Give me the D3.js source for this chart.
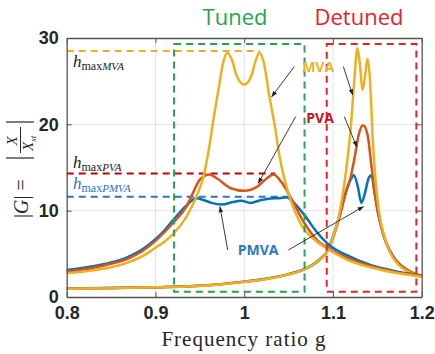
<!doctype html>
<html lang="en">
<head>
<meta charset="utf-8">
<title>Frequency response</title>
<script src="https://d3js.org/d3.v7.min.js"></script>
<style>
  body { margin: 0; background: #fff; }
  svg { display: block; }
</style>
</head>
<body>
<script>
// ---- data ----
const xTicks = [0.8, 0.9, 1.0, 1.1, 1.2];
const yTicks = [0, 10, 20, 30];

// tuned absorbers
const tunedPMVA = [[0.80,3.13],[0.83,3.55],[0.85,4.0],[0.868,4.6],[0.885,5.5],[0.90,6.7],[0.91,7.7],
  [0.92,8.9],[0.935,10.6],[0.946,11.43],
  [0.955,11.2],[0.963,10.9],[0.975,10.7],[0.987,11.0],[0.997,11.15],[1.007,10.9],[1.018,11.2],[1.03,11.4],
  [1.04,11.45],[1.048,11.55],[1.055,11.0],[1.067,9.6],[1.082,7.5],[1.097,5.9],[1.115,4.87],[1.142,3.7],
  [1.17,3.0],[1.2,2.5]];
const tunedPVA = [[0.80,2.95],[0.83,3.4],[0.85,3.85],[0.868,4.4],[0.885,5.3],[0.90,6.5],[0.91,7.5],
  [0.92,8.6],[0.935,10.5],[0.942,12.0],[0.95,13.6],[0.961,14.2],[0.97,13.7],[0.985,12.6],[1.0,12.3],
  [1.015,12.8],[1.025,13.7],[1.033,14.2],[1.042,13.3],[1.052,11.6],[1.067,8.7],[1.082,6.6],[1.097,5.5],
  [1.115,4.6],[1.142,3.6],[1.17,2.9],[1.2,2.45]];
const tunedMVA = [[0.80,2.75],[0.83,3.1],[0.85,3.45],[0.868,3.95],[0.885,4.7],[0.90,5.7],[0.91,6.4],
  [0.92,7.3],[0.935,9.3],[0.946,11.6],[0.954,13.9],[0.96,17],[0.966,21],[0.971,24],[0.976,27],[0.981,28.3],
  [0.986,27.5],[0.992,25.5],[1.0,24.6],[1.008,25.6],[1.013,27.4],[1.017,28.3],[1.022,27.2],[1.028,23.5],
  [1.035,19.5],[1.04,16.2],[1.045,13.8],[1.052,11.3],[1.063,8.6],[1.082,6.4],[1.095,5.5],[1.115,4.37],
  [1.142,3.44],[1.17,2.8],[1.2,2.35]];

// detuned absorbers
const detunedPMVA = [[0.80,0.98],[0.85,1.05],[0.90,1.14],[0.95,1.3],[1.00,1.78],[1.02,2.05],[1.05,2.65],
  [1.07,3.35],[1.085,4.35],[1.095,5.6],[1.10,7.0],[1.108,9.6],[1.115,12.3],[1.12,13.6],[1.1235,14.1],
  [1.128,12.8],[1.132,10.9],[1.136,12.0],[1.14,13.7],[1.1435,14.1],[1.147,12.0],[1.151,9.6],[1.157,7.2],
  [1.164,5.4],[1.172,4.1],[1.184,3.1],[1.196,2.5],[1.2,2.45]];
const detunedPVA = [[0.80,0.97],[0.85,1.04],[0.90,1.13],[0.95,1.29],[1.00,1.76],[1.02,2.02],[1.05,2.62],
  [1.07,3.3],[1.085,4.3],[1.095,5.5],[1.10,6.8],[1.108,9.5],[1.115,12.3],[1.12,13.9],[1.125,16.5],
  [1.129,18.8],[1.134,19.9],[1.139,18.8],[1.143,15.5],[1.147,12.0],[1.152,9.2],[1.158,6.8],[1.165,5.1],
  [1.175,3.8],[1.188,2.9],[1.2,2.4]];
const detunedMVA = [[0.80,0.95],[0.85,1.02],[0.90,1.12],[0.95,1.28],[1.00,1.75],[1.02,2.0],[1.05,2.6],
  [1.07,3.3],[1.085,4.3],[1.095,5.5],[1.10,6.9],[1.105,8.6],[1.11,11.2],[1.115,14.8],[1.12,19.5],
  [1.124,25],[1.1275,28.8],[1.130,27.3],[1.1335,24.0],[1.136,25.5],[1.139,27.6],[1.1415,25.5],[1.145,18],
  [1.148,13.5],[1.152,9.8],[1.158,7.0],[1.165,5.0],[1.175,3.6],[1.188,2.8],[1.2,2.35]];

// h_max reference levels: [value, x where the dashed line stops]
const hMaxMVA  = [28.5, 1.018];
const hMaxPVA  = [14.3, 1.035];
const hMaxPMVA = [11.6, 1.050];

// dashed boxes [x0, x1, y0, y1]
const tunedBox   = [0.921, 1.068, 0.6, 29.3];
const detunedBox = [1.093, 1.194, 0.6, 29.3];

// annotations: label, anchor, arrows [from, to]
const annLabels = [["MVA", 1.0833, 26.06], ["PVA", 1.0855, 20.15], ["PMVA", 1.0156, 4.87]];
const annArrows = [
  [[1.0565, 26.7], [1.031, 23.2]],
  [[1.1117, 26.7], [1.1222, 23.4]],
  [[1.058, 20.9], [1.0159, 13.17]],
  [[1.1128, 20.9], [1.1268, 17.4]],
  [[0.9814, 5.44], [0.9727, 10.46]],
  [[1.0497, 5.44], [1.1342, 10.46]]
];

// ---- chart ----
const W = 435, H = 354;
const mLeft = 66.7, mRight = 421.7, mTop = 38, mBottom = 297;

const colMVA = "#EDB120", colPVA = "#D95319", colPMVA = "#0072BD";

const svg = d3.select("body").append("svg")
  .attr("width", W).attr("height", H);

const x = d3.scaleLinear().domain([0.8, 1.2]).range([mLeft, mRight]);
const y = d3.scaleLinear().domain([0, 30]).range([mBottom, mTop]);

// grid
svg.append("g").selectAll("line")
  .data(xTicks.slice(1, -1)).join("line")
  .attr("x1", d => x(d)).attr("x2", d => x(d))
  .attr("y1", mTop).attr("y2", mBottom)
  .attr("stroke", "#e3e3e3").attr("stroke-width", 1);
svg.append("g").selectAll("line")
  .data(yTicks.slice(1, -1)).join("line")
  .attr("x1", mLeft).attr("x2", mRight)
  .attr("y1", d => y(d)).attr("y2", d => y(d))
  .attr("stroke", "#e3e3e3").attr("stroke-width", 1);

// h_max dashed lines
const hLines = [[hMaxMVA, colMVA], [hMaxPVA, "#C00000"], [hMaxPMVA, "#2E75B6"]];
svg.append("g").selectAll("line")
  .data(hLines).join("line")
  .attr("x1", mLeft).attr("x2", d => x(d[0][1]))
  .attr("y1", d => y(d[0][0])).attr("y2", d => y(d[0][0]))
  .attr("stroke", d => d[1]).attr("stroke-width", 2)
  .attr("stroke-dasharray", "7,5");

// curves
const line = d3.line()
  .x(d => x(d[0]))
  .y(d => y(d[1]))
  .curve(d3.curveMonotoneX);

const curves = [
  [detunedPMVA, colPMVA], [detunedPVA, colPVA], [detunedMVA, colMVA],
  [tunedPMVA, colPMVA], [tunedPVA, colPVA], [tunedMVA, colMVA]
];
svg.append("g").selectAll("path")
  .data(curves).join("path")
  .attr("d", d => line(d[0]))
  .attr("fill", "none")
  .attr("stroke", d => d[1])
  .attr("stroke-width", 2.5)
  .attr("stroke-linejoin", "round");

// dashed boxes
const boxes = [[tunedBox, "#1FA64E"], [detunedBox, "#E8202A"]];
svg.append("g").selectAll("rect")
  .data(boxes).join("rect")
  .attr("x", d => x(d[0][0]))
  .attr("y", d => y(d[0][3]))
  .attr("width", d => x(d[0][1]) - x(d[0][0]))
  .attr("height", d => y(d[0][2]) - y(d[0][3]))
  .attr("fill", "none")
  .attr("stroke", d => d[1])
  .attr("stroke-width", 2)
  .attr("stroke-dasharray", "7,5");

// axes (box style, ticks inside)
const fmt = d => d3.format("")(d);
const axisStyle = g => {
  g.select(".domain").attr("stroke", "#555").attr("stroke-width", 1.3);
  g.selectAll(".tick line").attr("stroke", "#555");
  g.selectAll(".tick text")
    .attr("font-family", "'Liberation Sans', Arial, sans-serif")
    .attr("font-weight", 700).attr("font-size", 18).attr("fill", "#262626");
};
svg.append("g")
  .attr("transform", `translate(0,${mBottom})`)
  .call(d3.axisBottom(x).tickValues(xTicks).tickFormat(fmt).tickSize(-5).tickSizeOuter(0).tickPadding(9))
  .call(axisStyle);
svg.append("g")
  .attr("transform", `translate(${mLeft},0)`)
  .call(d3.axisLeft(y).tickValues(yTicks).tickSize(-5).tickSizeOuter(0).tickPadding(8))
  .call(axisStyle);
svg.append("g")
  .attr("transform", `translate(0,${mTop})`)
  .call(d3.axisTop(x).tickValues(xTicks).tickFormat("").tickSize(-5).tickSizeOuter(0))
  .call(axisStyle);
svg.append("g")
  .attr("transform", `translate(${mRight},0)`)
  .call(d3.axisRight(y).tickValues(yTicks).tickFormat("").tickSize(-5).tickSizeOuter(0))
  .call(axisStyle);

// arrows
svg.append("defs").append("marker")
  .attr("id", "arr").attr("viewBox", "0 0 10 10")
  .attr("refX", 9).attr("refY", 5)
  .attr("markerWidth", 7).attr("markerHeight", 7)
  .attr("orient", "auto-start-reverse")
  .append("path").attr("d", "M0,1.5 L10,5 L0,8.5 Z").attr("fill", "#222");

svg.append("g").selectAll("line")
  .data(annArrows).join("line")
  .attr("x1", d => x(d[0][0])).attr("y1", d => y(d[0][1]))
  .attr("x2", d => x(d[1][0])).attr("y2", d => y(d[1][1]))
  .attr("stroke", "#222").attr("stroke-width", 0.9)
  .attr("marker-end", "url(#arr)");

// annotation labels
const labCol = { MVA: "#E5B531", PVA: "#C0151A", PMVA: "#2A7AC0" };
svg.append("g").selectAll("text")
  .data(annLabels).join("text")
  .attr("x", d => x(d[1])).attr("y", d => y(d[2]))
  .attr("text-anchor", "middle")
  .attr("font-family", "'Open Sans', sans-serif")
  .attr("font-weight", "bold").attr("font-size", 14)
  .attr("fill", d => labCol[d[0]])
  .text(d => d[0]);

// h_max labels
const hLabels = [["MVA", 66.7, "#222"], ["PVA", 168, "#222"], ["PMVA", 189, "#2E75B6"]];
hLabels.forEach(([name, base, c]) => {
  const t = svg.append("text")
    .attr("x", 73).attr("y", base)
    .attr("font-family", "'Liberation Serif', 'Times New Roman', serif")
    .attr("fill", c);
  t.append("tspan").attr("font-style", "italic").attr("font-size", 17).text("h");
  t.append("tspan").attr("font-size", 12).attr("dy", 3).text("max");
  t.append("tspan").attr("font-style", "italic").attr("font-size", 11).text(name);
});

// titles
svg.append("text").attr("x", 235).attr("y", 25).attr("text-anchor", "middle")
  .attr("font-family", "'Open Sans', sans-serif").attr("font-size", 22)
  .attr("fill", "#1FA64E").text("Tuned");
svg.append("text").attr("x", 359).attr("y", 25).attr("text-anchor", "middle")
  .attr("font-family", "'Open Sans', sans-serif").attr("font-size", 22)
  .attr("fill", "#E8202A").text("Detuned");

// x label
svg.append("text").attr("x", 244).attr("y", 346).attr("text-anchor", "middle")
  .attr("font-family", "'Liberation Serif', 'Times New Roman', serif")
  .attr("font-size", 21).attr("letter-spacing", 1)
  .attr("fill", "#262626").text("Frequency ratio g");

// y label  |G| = |X / X_st|
const yl = svg.append("g")
  .attr("transform", "translate(28,168) rotate(-90)")
  .attr("font-family", "'Liberation Serif', 'Times New Roman', serif")
  .attr("fill", "#262626");
yl.append("text").attr("x", -50).attr("y", 0).attr("font-size", 20)
  .html("|<tspan font-style='italic'>G</tspan>| = ");
yl.append("line").attr("x1", 10).attr("x2", 10).attr("y1", -22).attr("y2", 6)
  .attr("stroke", "#262626").attr("stroke-width", 1.2);
yl.append("text").attr("x", 27).attr("y", -11).attr("font-size", 15)
  .attr("font-style", "italic").attr("text-anchor", "middle").text("X");
yl.append("line").attr("x1", 15).attr("x2", 41).attr("y1", -7.5).attr("y2", -7.5)
  .attr("stroke", "#262626").attr("stroke-width", 1);
const den = yl.append("text").attr("x", 17).attr("y", 5).attr("font-size", 15).attr("font-style", "italic");
den.append("tspan").text("X");
den.append("tspan").attr("font-size", 9).attr("dy", 3).text("st");
yl.append("line").attr("x1", 46).attr("x2", 46).attr("y1", -22).attr("y2", 6)
  .attr("stroke", "#262626").attr("stroke-width", 1.2);
</script>
</body>
</html>
